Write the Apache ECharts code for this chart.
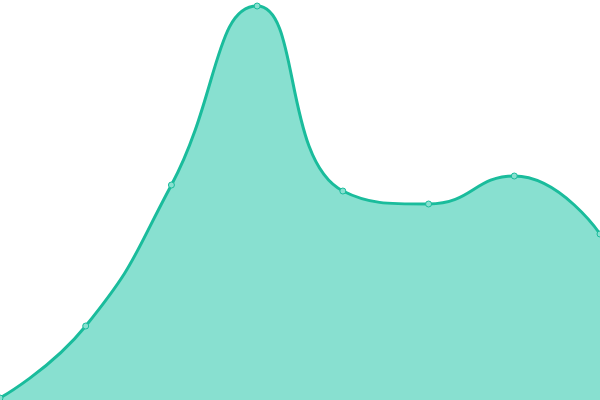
<!DOCTYPE html>
<html><head><meta charset="utf-8">
<script src="https://cdn.jsdelivr.net/npm/echarts@6/dist/echarts.min.js"></script>
<style>html,body{margin:0;padding:0;background:#fff}#c{width:600px;height:400px}</style>
</head><body><div id="c"></div>
<script>
var categories = ['1','2','3','4','5','6','7','8'];
var values = [2, 74, 215, 394, 209, 196, 224, 166];
var chart = echarts.init(document.getElementById('c'));
chart.setOption({
  animation: false,
  grid: {left: 0, right: 0, top: 0, bottom: 0},
  xAxis: {type: 'category', data: categories, boundaryGap: false, show: false},
  yAxis: {type: 'value', min: 0, max: 400, show: false},
  series: [{
    type: 'line',
    data: values,
    smooth: true,
    symbol: 'circle',
    symbolSize: 6,
    showAllSymbol: true,
    lineStyle: {color: '#1abc9c', width: 3},
    itemStyle: {color: '#88e0d0', borderColor: '#1abc9c', borderWidth: 1},
    areaStyle: {color: '#88e0d0', opacity: 1}
  }]
});
</script></body></html>
